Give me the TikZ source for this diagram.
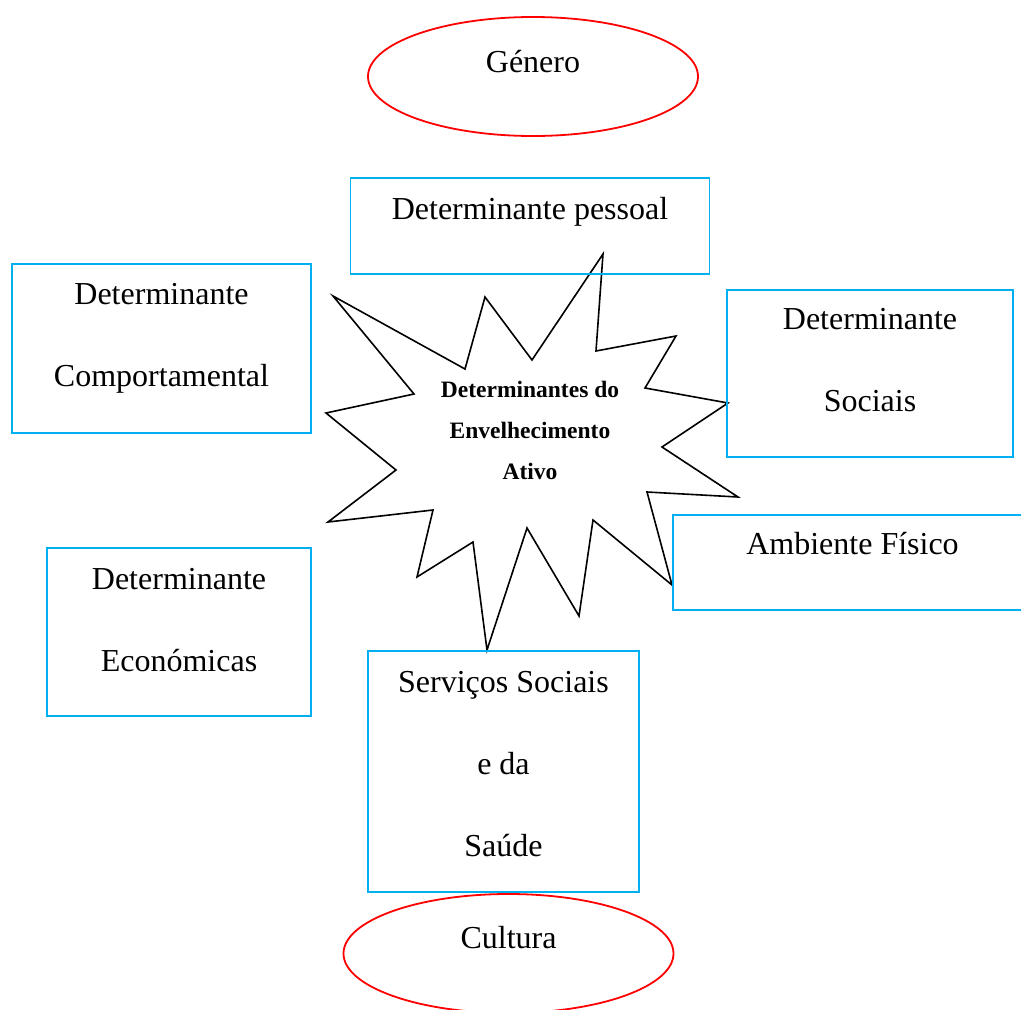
\documentclass[tikz,border=0pt]{standalone}
\usepackage{fontspec}
\setmainfont{Liberation Serif}
\usepackage{tikz}
\usetikzlibrary{shapes,positioning}
\tikzset{detbox/.style={draw=boxblue, line width=1.8pt, rectangle, align=center, inner xsep=0pt, inner ysep=0pt, font=\fontsize{32}{82}\selectfont}}
\tikzset{oval/.style={draw=ovalred, line width=1.8pt, ellipse, align=center, inner sep=0pt, minimum width=330pt, minimum height=119pt, text height=20pt, font=\fontsize{32}{82}\selectfont}}
\definecolor{boxblue}{RGB}{0,176,240}
\definecolor{ovalred}{RGB}{255,0,0}

\begin{document}
\begin{tikzpicture}[x=1pt, y=-1pt, on grid, burst/.style={draw, line width=1.6pt, line join=miter}]
			\useasboundingbox (0,0) rectangle (1021,1010);
			
			\node[align=center, inner sep=0pt, text height=102pt, text depth=8pt, font=\bfseries\fontsize{23.5}{41}\selectfont] (EA) at (530,432) {Determinantes do\\Envelhecimento\\Ativo};
			\draw[burst] (603,254) -- (596,351) -- (676,336) -- (645,388) -- (728,403) -- (662,447) -- (738,497) -- (647,492) -- (672,585) -- (593,520) -- (579,616) -- (527,528) -- (487,650) -- (473,542) -- (417,577) -- (433,510) -- (328,522) -- (396,470) -- (326,413) -- (414,394) -- (333,296) -- (465,369) -- (485,297) -- (532,360) -- cycle;
			
			\node[detbox, minimum width=359pt, text height=41pt, text depth=55pt] (pessoal) [above = 206pt of EA] {Determinante pessoal};
			\node[detbox, minimum width=299pt, text height=122pt, text depth=47pt] (comport) [above left = 83.5pt and 368.5pt of EA] {Determinante\\Comportamental};
			\node[detbox, minimum width=286pt, text height=121pt, text depth=46pt] (sociais) [above right = 58.5pt and 340pt of EA] {Determinante\\Sociais};
			\node[detbox, minimum width=359pt, text height=39pt, text depth=56pt] (ambiente) [below right = 130.5pt and 322.5pt of EA] {Ambiente Físico};
			\node[detbox, minimum width=264pt, text height=123pt, text depth=45pt] (econ) [below left = 200pt and 351pt of EA] {Determinante\\Económicas};
			\node[detbox, minimum width=271pt, text height=205pt, text depth=36pt] (servicos) [below left = 339.5pt and 26.5pt of EA] {Serviços Sociais\\e da\\Saúde};
			
			\node[oval, text depth=29pt] (genero) [above right = 355.5pt and 3pt of EA] {Género};
			\node[oval, text depth=31pt] (cultura) [below right = 182pt and 5pt of servicos] {Cultura};
		\end{tikzpicture}
\end{document}
